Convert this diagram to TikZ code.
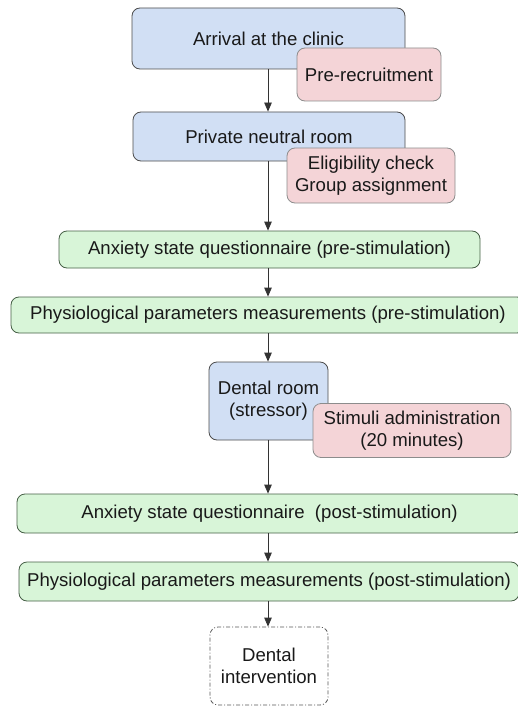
\documentclass[tikz,border=0pt]{standalone}
\usepackage{fontspec}
\setmainfont{Liberation Sans}
\usetikzlibrary{arrows.meta}
\definecolor{bluefill}{RGB}{209,223,244}
\definecolor{pinkfill}{RGB}{244,212,215}
\definecolor{greenfill}{RGB}{216,245,216}
\definecolor{greenedge}{RGB}{70,95,70}
\tikzset{
  base/.style={rounded corners=8pt, line width=0.8pt, align=center, inner sep=0pt,
    font=\fontsize{18.6}{22}\selectfont, text=black!90},
  bluebox/.style={base, draw=black!70, fill=bluefill},
  pinkbox/.style={base, draw=black!45, fill=pinkfill},
  greenbox/.style={base, draw=greenedge, fill=greenfill},
  endbox/.style={base, draw=black!65, dash pattern=on 4pt off 2pt on 1pt off 2pt},
  arr/.style={line width=0.8pt, draw=black!80, -{Triangle[length=9pt,width=7.5pt]}}
}
\begin{document}
\begin{tikzpicture}[x=1pt,y=1pt]
\useasboundingbox (0,0) rectangle (517,-706);
\node[bluebox, minimum width=273, minimum height=61] (arr) at (268.5,-38.5) {Arrival at the clinic};
\node[pinkbox, minimum width=144, minimum height=53] (pre) at (369,-74.5) {Pre-recruitment};
\node[bluebox, minimum width=272, minimum height=49] (priv) at (269,-136.5) {Private neutral room};
\node[pinkbox, minimum width=168, minimum height=55] (elig) at (371,-175.5) {Eligibility check\\Group assignment};
\node[greenbox, minimum width=421, minimum height=37] (anx1) at (269.5,-249.5) {Anxiety state questionnaire (pre-stimulation)};
\node[greenbox, minimum width=514, minimum height=36] (phys1) at (268,-315) {Physiological parameters measurements (pre-stimulation)};
\node[bluebox, minimum width=119, minimum height=78] (dental) at (268.5,-401) {Dental room\\(stressor)};
\node[pinkbox, minimum width=198, minimum height=54] (stim) at (412,-430.5) {Stimuli administration\\(20 minutes)};
\node[greenbox, minimum width=505, minimum height=39] (anx2) at (269.5,-513.5) {Anxiety state questionnaire\ \ (post-stimulation)};
\node[greenbox, minimum width=500, minimum height=39] (phys2) at (269,-581.5) {Physiological parameters measurements (post-stimulation)};
\node[endbox, minimum width=118, minimum height=78] (interv) at (269,-666) {Dental\\intervention};
\draw[arr] (arr.south -| 268,0) -- (priv.north -| 268,0);
\draw[arr] (priv.south -| 268,0) -- (anx1.north -| 268,0);
\draw[arr] (anx1.south -| 268,0) -- (phys1.north -| 268,0);
\draw[arr] (phys1.south -| 268,0) -- (dental.north -| 268,0);
\draw[arr] (dental.south -| 268,0) -- (anx2.north -| 268,0);
\draw[arr] (anx2.south -| 268,0) -- (phys2.north -| 268,0);
\draw[arr] (phys2.south -| 268,0) -- (interv.north -| 268,0);
\end{tikzpicture}
\end{document}
